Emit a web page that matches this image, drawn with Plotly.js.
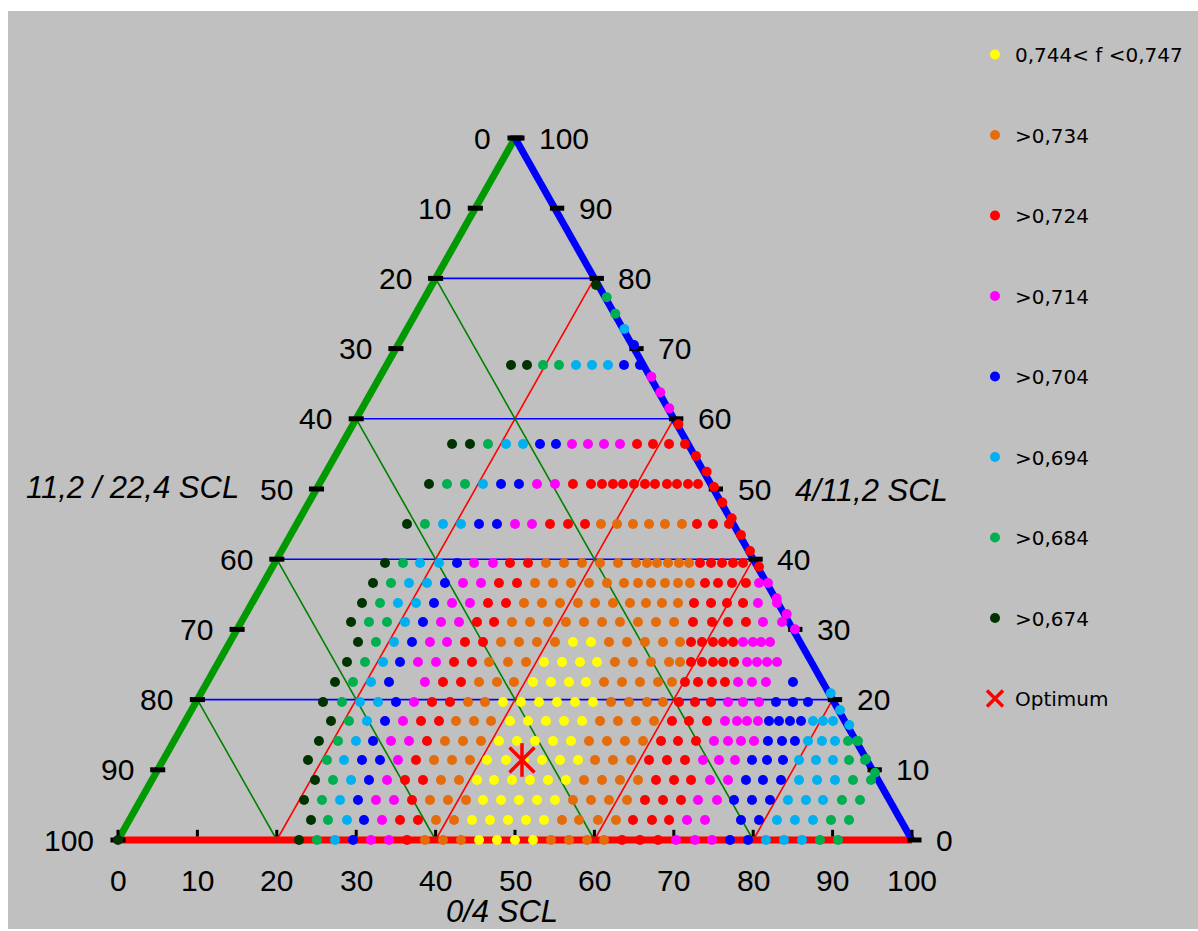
<!DOCTYPE html>
<html><head><meta charset="utf-8">
<script src="https://cdn.plot.ly/plotly-3.0.1.min.js"></script>
<style>html,body{margin:0;padding:0;background:#ffffff;} #chart{position:absolute;left:8px;top:11px;width:1190px;height:918px;}</style>
</head><body><div id="chart"></div>
<script>
// ---------------- DATA ----------------
const levels = ["0,744< f <0,747", ">0,734", ">0,724", ">0,714", ">0,704", ">0,694", ">0,684", ">0,674"];
const levelCodes = ["Y", "O", "R", "M", "B", "C", "G", "D"];
const optimumLabel = "Optimum";
const axisTicks = [0, 10, 20, 30, 40, 50, 60, 70, 80, 90, 100];
const gridTicks = [20, 40, 60, 80];
const titleBottom = "0/4 SCL";
const titleLeft = "11,2 / 22,4 SCL";
const titleRight = "4/11,2 SCL";

// rows of points: level on the 4/11,2 SCL axis, x positions on the 0/4 SCL axis, class codes
const rowH = [0, 2.85, 5.70, 8.55, 11.40, 14.10, 16.95, 19.66, 22.51, 25.36, 28.21, 31.05, 33.76, 36.61, 39.46, 45.01, 50.71, 56.41, 67.66];
const x_r00 = [0, 22.80, 25.06, 27.33, 29.60, 31.86, 34.13, 36.40, 38.66, 40.93, 43.20, 45.47, 47.73, 50.00, 52.27, 54.53, 56.80, 59.07, 61.21, 63.48, 65.74, 68.01, 70.28, 72.67, 74.81, 77.08, 79.35, 81.61, 83.88, 86.15, 88.41, 90.68];
const c_r00 = "DDGCBMMROOOYYYYOOOORRRMMMBBCCCGG";
const x_r01 = [24.31, 26.45, 28.84, 30.98, 33.25, 35.52, 37.78, 40.05, 42.32, 44.58, 46.85, 49.12, 51.39, 53.65, 55.92, 58.06, 60.45, 62.72, 64.86, 67.25, 69.40, 71.66, 73.93, 78.46, 80.73, 83.00, 85.26, 87.53, 89.80, 92.07];
const c_r01 = "DGCBMRROOYYYYYOOOORRRMMBBCCCGG";
const x_r02 = [23.43, 25.69, 27.96, 30.23, 32.49, 34.76, 37.03, 39.29, 41.56, 43.83, 45.97, 48.24, 50.50, 52.77, 55.04, 57.30, 59.57, 61.84, 64.11, 66.37, 68.64, 70.91, 73.05, 75.44, 77.58, 79.85, 82.12, 84.38, 86.65, 88.79, 91.18, 93.45];
const c_r02 = "DGCBMMROOOYYYYYOOOORRRMMBBBCCCGG";
const x_r03 = [24.81, 27.08, 29.35, 31.61, 33.88, 36.15, 38.41, 40.68, 42.95, 45.21, 47.36, 49.62, 51.89, 54.16, 56.42, 58.69, 60.96, 63.22, 65.49, 67.76, 70.03, 72.17, 74.56, 76.83, 79.09, 81.23, 83.50, 85.77, 88.04, 90.30, 92.57, 94.84];
const c_r03 = "DGCBMRROOYYYYYYOOOORRRMMBBBCCCGG";
const x_r04 = [23.93, 26.32, 28.46, 30.73, 33.00, 35.26, 37.53, 39.80, 42.07, 44.33, 46.47, 48.87, 51.13, 53.40, 55.67, 57.93, 60.08, 62.34, 64.61, 66.88, 69.14, 71.41, 73.68, 75.69, 77.71, 79.85, 81.74, 83.75, 85.77, 87.91, 90.05, 92.07, 94.08];
const c_r04 = "DGCBBMROOOYYYYYYOOORRRMMMBBBCCCGG";
const x_r05 = [25.31, 27.71, 29.97, 32.12, 34.38, 36.65, 38.92, 41.18, 43.45, 45.72, 47.98, 50.25, 52.52, 54.79, 57.05, 59.32, 61.59, 63.85, 66.12, 68.39, 70.53, 72.80, 75.06, 76.83, 78.46, 80.10, 81.86, 83.63, 85.26, 86.90, 88.66, 90.30, 91.94, 93.20];
const c_r05 = "DGCBMMROOOYYYYYOOOORRRMMMMBBBCCCGG";
const x_r06 = [26.83, 29.09, 31.36, 33.63, 35.89, 38.16, 40.43, 42.57, 44.84, 46.98, 49.37, 51.64, 53.90, 56.17, 58.44, 60.71, 62.97, 65.24, 67.51, 69.77, 71.91, 74.18, 76.45, 77.96, 79.22, 80.60, 81.99, 83.25, 84.63, 86.02, 87.53, 88.79, 90.05];
const c_r06 = "DGCBMRROOOYYYYYOOOORRRMMMMBBBBCCC";
const x_r07 = [25.82, 28.21, 30.48, 32.75, 35.01, 37.28, 39.55, 41.81, 44.08, 46.22, 48.49, 50.76, 53.02, 55.29, 57.56, 59.82, 62.09, 64.36, 66.62, 68.64, 70.65, 72.67, 74.69, 76.83, 78.72, 80.73, 82.87, 85.01, 86.90];
const c_r07 = "DGCCBMRROOYYYYYYOOOORRRMMMBBB";
const x_r08 = [27.33, 29.60, 31.86, 34.13, 38.66, 40.93, 43.20, 45.47, 47.73, 49.87, 52.27, 54.53, 56.80, 58.94, 61.21, 63.48, 65.74, 68.01, 69.77, 71.41, 73.05, 74.81, 76.45, 78.09, 79.85, 81.61, 85.01];
const c_r08 = "DGCBMRROOOYYYYOOOOORRRRMMMB";
const x_r09 = [28.84, 31.11, 33.38, 35.52, 37.78, 40.05, 42.32, 44.58, 46.73, 49.12, 51.39, 53.65, 55.92, 58.19, 60.33, 62.59, 64.86, 67.13, 69.40, 70.78, 72.17, 73.55, 74.94, 76.20, 77.58, 79.22, 80.48, 81.74, 83.00];
const c_r09 = "DGCBMMRROOOYYYYOOOOORRRRRMMMM";
const x_r10 = [30.23, 32.49, 34.76, 37.03, 39.29, 41.44, 43.70, 45.97, 48.24, 50.50, 52.77, 55.04, 57.30, 59.57, 61.84, 64.11, 66.37, 68.64, 70.78, 72.17, 73.55, 74.94, 76.20, 77.46, 78.72, 79.97, 80.98, 82.12];
const c_r10 = "DGCBMMRROOOOYYOOOOORRRRRMMMM";
const x_r11 = [29.35, 31.61, 33.88, 36.15, 38.41, 40.68, 42.95, 45.21, 47.36, 49.62, 51.89, 54.16, 56.42, 58.69, 60.96, 63.22, 65.49, 67.76, 70.03, 72.42, 74.81, 76.83, 79.09, 81.23, 83.63];
const c_r11 = "DGGCBMMRROOOOOOOOOORRRRMM";
const x_r12 = [30.73, 33.00, 35.26, 37.53, 39.80, 42.07, 44.33, 46.60, 48.87, 51.13, 53.40, 55.67, 57.93, 60.08, 62.34, 64.48, 66.50, 68.51, 70.53, 72.54, 74.69, 76.70, 78.72, 80.60, 83.00];
const c_r12 = "DGCCBMMRROOOOOOOOOORRRRMM";
const x_r13 = [32.12, 34.38, 36.65, 38.92, 41.18, 43.45, 45.72, 47.98, 50.25, 52.52, 54.79, 57.05, 59.32, 61.59, 63.73, 65.49, 67.13, 68.89, 70.53, 72.04, 73.93, 75.57, 77.33, 79.09, 80.73, 81.86];
const c_r13 = "DGCCBMMRROOOOOOOOOOORRRRMM";
const x_r14 = [33.63, 35.89, 38.04, 40.43, 42.70, 44.84, 47.23, 49.37, 51.64, 53.90, 56.17, 58.44, 60.71, 62.97, 65.24, 66.62, 67.88, 69.27, 70.65, 71.91, 73.30, 74.69, 76.07, 77.46, 78.72];
const c_r14 = "DGCCBMMRROOOOOOOOOOORRRRR";
const x_r15 = [36.40, 38.66, 40.93, 43.20, 45.47, 47.73, 50.00, 52.14, 54.41, 56.68, 58.82, 60.83, 62.85, 64.86, 66.88, 68.89, 71.03, 72.92, 74.94, 76.95];
const c_r15 = "DGCCBBMMRRROOOOOORRR";
const x_r16 = [39.17, 41.44, 43.70, 45.97, 48.24, 50.50, 52.77, 55.04, 57.30, 59.57, 60.96, 62.34, 63.60, 64.99, 66.37, 67.63, 69.14, 70.40, 71.79, 73.05];
const c_r16 = "DGGCBBMMRRRRRRRRRRRR";
const x_r17 = [42.07, 44.33, 46.60, 48.87, 51.01, 53.15, 55.16, 57.18, 59.19, 61.21, 63.22, 65.37, 67.38, 69.40, 71.41];
const c_r17 = "DDGCCBBMMMMRRRR";
const x_r18 = [49.50, 51.51, 53.53, 55.54, 57.68, 59.70, 61.71, 63.73, 65.74];
const c_r18 = "DDGGCCCBB";

// points lying on the 4/11,2 SCL side
const edgeX = [60.20, 61.55, 62.63, 63.77, 64.99, 67.17, 68.30, 69.43, 70.57, 72.80, 74.14, 75.06, 76.11, 77.29, 78.46, 79.60, 80.73, 82.96, 84.22, 85.26, 89.76, 90.93, 92.10, 93.07, 94.21, 95.34];
const edgeH = [79.06, 77.31, 74.97, 72.79, 70.51, 66.00, 63.77, 61.50, 59.22, 54.70, 52.46, 50.28, 48.08, 45.82, 43.45, 41.17, 38.93, 34.43, 32.19, 30.01, 20.90, 18.52, 16.38, 14.10, 11.54, 9.59];
const edgeC = "DGGCBMMMRRRRRRRRRMMMCCCGGG";

const optimumX = [50.88];
const optimumH = [11.40];

// ---------------- STYLE / LAYOUT ----------------
const levelColors = ["#FFFF00", "#E46C0A", "#FF0000", "#FF00FF", "#0000FF", "#00B0F0", "#00B050", "#003300"];
const W = 1190, H = 918;
const X0PX = 110, X100PX = 904, Y0PX = 829, Y100PX = 127;
const pxX = (X100PX - X0PX) / 100, pxY = (Y0PX - Y100PX) / 100;
const M = {l: 31, r: 207, t: 70, b: 33, autoexpand: false};
const xRange = [(M.l - X0PX) / pxX, (W - M.r - X0PX) / pxX];
const yRange = [(Y0PX - (H - M.b)) / pxY, (Y0PX - M.t) / pxY];

const rowX = [x_r00, x_r01, x_r02, x_r03, x_r04, x_r05, x_r06, x_r07, x_r08, x_r09, x_r10, x_r11, x_r12, x_r13, x_r14, x_r15, x_r16, x_r17, x_r18];
const rowC = [c_r00, c_r01, c_r02, c_r03, c_r04, c_r05, c_r06, c_r07, c_r08, c_r09, c_r10, c_r11, c_r12, c_r13, c_r14, c_r15, c_r16, c_r17, c_r18];

const tx = levels.map(() => []), ty = levels.map(() => []);
rowX.forEach((xs, r) => {
  xs.forEach((x, i) => {
    const k = levelCodes.indexOf(rowC[r][i]);
    tx[k].push(x); ty[k].push(rowH[r]);
  });
});
edgeX.forEach((x, i) => {
  const k = levelCodes.indexOf(edgeC[i]);
  tx[k].push(x); ty[k].push(edgeH[i]);
});

const traces = levels.map((name, k) => ({
  type: 'scatter', mode: 'markers', name: name, x: tx[k], y: ty[k],
  legendgroup: 'g' + k, cliponaxis: false, hoverinfo: 'skip',
  marker: {color: levelColors[k], size: 10, line: {width: 0}}
}));
traces.push({
  type: 'scatter', mode: 'markers', name: optimumLabel, x: optimumX, y: optimumH,
  legendgroup: 'opt', cliponaxis: false, hoverinfo: 'skip',
  marker: {symbol: 'x-thin-open', size: 25, color: '#FF0000', line: {color: '#FF0000', width: 3.5}}
});
traces.push({
  type: 'scatter', mode: 'markers', name: optimumLabel, x: optimumX, y: optimumH,
  legendgroup: 'opt', showlegend: false, cliponaxis: false, hoverinfo: 'skip',
  marker: {symbol: 'line-ns-open', size: 24, color: '#FF0000', line: {color: '#FF0000', width: 3.5}}
});

const shapes = [];
gridTicks.forEach(v => {
  shapes.push({type: 'line', layer: 'below', x0: v / 2, y0: v, x1: 100 - v / 2, y1: v, line: {color: '#0000FF', width: 1.6}});
  shapes.push({type: 'line', layer: 'below', x0: v, y0: 0, x1: 50 + v / 2, y1: 100 - v, line: {color: '#FF0000', width: 1.6}});
  shapes.push({type: 'line', layer: 'below', x0: v / 2, y0: v, x1: v, y1: 0, line: {color: '#008000', width: 1.6}});
});
shapes.push({type: 'line', layer: 'below', x0: 0, y0: 0, x1: 100, y1: 0, line: {color: '#FF0000', width: 7}});
shapes.push({type: 'line', layer: 'below', x0: 0, y0: 0, x1: 50, y1: 100, line: {color: '#009900', width: 7}});
shapes.push({type: 'line', layer: 'below', x0: 50, y0: 100, x1: 100, y1: 0, line: {color: '#0000FF', width: 7}});
axisTicks.forEach(v => {
  const hl = 100 - v, xl = hl / 2;
  shapes.push({type: 'line', layer: 'below', x0: xl - 0.95, y0: hl, x1: xl + 0.95, y1: hl, line: {color: '#000000', width: 5}});
  const xr = 100 - v / 2;
  shapes.push({type: 'line', layer: 'below', x0: xr - 0.6, y0: v, x1: xr + 1.2, y1: v, line: {color: '#000000', width: 5}});
  shapes.push({type: 'line', layer: 'below', x0: v, y0: 0.5, x1: v, y1: 1.45, line: {color: '#000000', width: 3}});
});

const tickFont = {family: 'Liberation Sans, Arial, sans-serif', size: 30, color: '#000000'};
const annotations = [];
axisTicks.forEach(v => {
  annotations.push({x: (100 - v) / 2, y: 100 - v, xref: 'x', yref: 'y', text: String(v), showarrow: false, xanchor: 'right', yanchor: 'middle', xshift: -22, font: tickFont});
  annotations.push({x: 100 - v / 2, y: v, xref: 'x', yref: 'y', text: String(v), showarrow: false, xanchor: 'left', yanchor: 'middle', xshift: 22, font: tickFont});
  annotations.push({x: v, y: 0, xref: 'x', yref: 'y', text: String(v), showarrow: false, xanchor: 'center', yanchor: 'middle', yshift: -40, font: tickFont});
});
const titleFont = {family: 'Liberation Sans, Arial, sans-serif', size: 31, color: '#000000', style: 'italic'};
annotations.push({x: 1.83, y: 50.28, xref: 'x', yref: 'y', text: titleLeft, showarrow: false, xanchor: 'center', yanchor: 'middle', font: titleFont});
annotations.push({x: 94.96, y: 49.72, xref: 'x', yref: 'y', text: titleRight, showarrow: false, xanchor: 'center', yanchor: 'middle', font: titleFont});
annotations.push({x: 48.36, y: 0, xref: 'x', yref: 'y', text: titleBottom, showarrow: false, xanchor: 'center', yanchor: 'middle', yshift: -71, font: titleFont});

const layout = {
  width: W, height: H, autosize: false,
  paper_bgcolor: '#C0C0C0', plot_bgcolor: 'rgba(0,0,0,0)',
  margin: M,
  xaxis: {range: xRange, visible: false, fixedrange: true},
  yaxis: {range: yRange, visible: false, fixedrange: true},
  showlegend: true,
  legend: {
    xref: 'container', yref: 'container', x: 967 / W, y: 1 - 24 / H, xanchor: 'left', yanchor: 'top',
    bgcolor: 'rgba(0,0,0,0)', borderwidth: 0, traceorder: 'grouped', tracegroupgap: 51.5,
    maxheight: 900,
    font: {family: 'DejaVu Sans, sans-serif', size: 20, color: '#000000'}, itemsizing: 'trace'
  },
  shapes: shapes, annotations: annotations
};

Plotly.newPlot('chart', traces, layout, {staticPlot: true, displayModeBar: false});
</script></body></html>
